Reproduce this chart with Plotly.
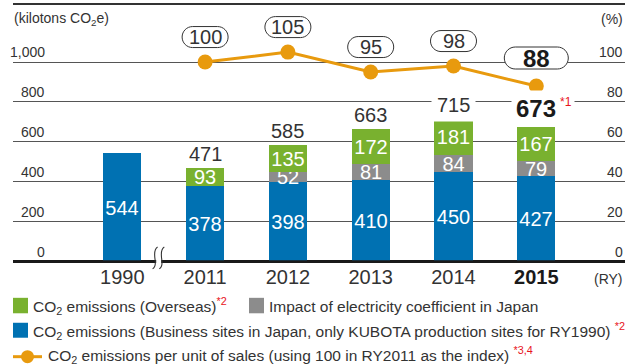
import plotly.graph_objects as go

# ---- data -------------------------------------------------------------
years = ["1990", "2011", "2012", "2013", "2014", "2015"]
japan_sites = [544, 378, 398, 410, 450, 427]          # blue
electricity_impact = [None, None, 52, 81, 84, 79]    # gray
overseas = [None, 93, 135, 172, 181, 167]            # green
totals = [None, 471, 585, 663, 715, 673]
index_years = ["2011", "2012", "2013", "2014", "2015"]
index_values = [100, 105, 95, 98, 88]
left_ticks = [0, 200, 400, 600, 800, 1000]
left_tick_text = ["0", "200", "400", "600", "800", "1,000"]
right_ticks = [0, 20, 40, 60, 80, 100]
right_tick_text = ["0", "20", "40", "60", "80", "100"]

# ---- style ------------------------------------------------------------
BLUE = "#0071B2"
GRAY = "#8C8C8C"
GREEN = "#79B12F"
ORANGE = "#E89A0E"
RED = "#E8141C"
TXT = "#333333"
FONT = "Liberation Sans, Arial, sans-serif"

W, H = 628, 364
PX0, PX1 = 13, 625          # plot area, pixels
ZERO_PX = 261.7             # page row of the zero line
TOP_PX = 3.0                # page row of the top rule
Y_PER_PX = 5.0              # kilotons per pixel
YMIN = -7.0                 # a little room below zero so the baseline sits inside
PY0 = 1.5
PY1 = ZERO_PX - YMIN / Y_PER_PX
SLOT = 82.8                 # category spacing in px
FIRST = 122.3               # centre of first category in px

def fx(p):
    return (p - PX0) / (PX1 - PX0)

def fy(p):
    return (PY1 - p) / (PY1 - PY0)

pos = list(range(len(years)))
idx_pos = [years.index(y) for y in index_years]
ymax = (ZERO_PX - PY0) * Y_PER_PX
top_rule = (ZERO_PX - TOP_PX) * Y_PER_PX

fig = go.Figure()
for vals, col in [(japan_sites, BLUE), (electricity_impact, GRAY), (overseas, GREEN)]:
    fig.add_trace(go.Bar(
        x=pos, y=vals, width=0.46, marker=dict(color=col, line=dict(width=0)),
        text=[None if v is None else str(v) for v in vals], textposition="inside",
        insidetextanchor="middle", constraintext="none", textangle=0,
        textfont=dict(color="white", size=20, family=FONT),
        hoverinfo="skip", showlegend=False,
    ))

fig.add_trace(go.Scatter(
    x=idx_pos, y=index_values, yaxis="y2", mode="lines+markers",
    line=dict(color=ORANGE, width=3), marker=dict(color=ORANGE, size=15),
    hoverinfo="skip", showlegend=False,
))
# empty trace that carries the axis used for the top rule
fig.add_trace(go.Scatter(x=[], y=[], yaxis="y3", showlegend=False, hoverinfo="skip"))

shapes = []
annotations = []

def rect(x0, y0, x1, y1, col):
    """Filled rectangle given in page pixels."""
    shapes.append(dict(type="rect", xref="paper", yref="paper",
                       x0=fx(x0), x1=fx(x1), y0=fy(y1), y1=fy(y0),
                       fillcolor=col, line=dict(width=0), layer="above"))

# left / right tick labels sitting on top of the grid lines
for v, t in zip(left_ticks, left_tick_text):
    annotations.append(dict(xref="paper", yref="y", x=fx(46.5), y=v, text=t,
                            xanchor="right", yanchor="bottom", showarrow=False,
                            font=dict(size=14, color=TXT, family=FONT)))
for v, t in zip(right_ticks, right_tick_text):
    annotations.append(dict(xref="paper", yref="y2", x=1, y=v, text=t,
                            xanchor="right", yanchor="bottom", showarrow=False,
                            font=dict(size=14, color=TXT, family=FONT)))
annotations.append(dict(xref="paper", yref="paper", x=fx(12), y=fy(19),
                        text="(kilotons CO<sub>2</sub>e)", xanchor="left", yanchor="middle",
                        showarrow=False, font=dict(size=14, color=TXT, family=FONT)))
annotations.append(dict(xref="paper", yref="paper", x=1, y=fy(19), text="(%)",
                        xanchor="right", yanchor="middle", showarrow=False,
                        font=dict(size=14, color=TXT, family=FONT)))
annotations.append(dict(xref="paper", yref="paper", x=1, y=fy(279), text="(RY)",
                        xanchor="right", yanchor="middle", showarrow=False,
                        font=dict(size=14, color=TXT, family=FONT)))

# totals above the stacks; a white backing breaks any grid line running through the number
last = len(years) - 1
for i, t in enumerate(totals):
    if t is None:
        continue
    bold = i == last
    band = (t + 35, t + (130 if bold else 110))
    crosses = any(band[0] <= g <= band[1] for g in left_ticks)
    if bold:
        ann = dict(x=i, y=t, xref="x", yref="y", text=f"<b>{t}</b>",
                   xanchor="center", yanchor="bottom", yshift=0, showarrow=False,
                   borderpad=4, font=dict(size=24, color="#1a1a1a", family=FONT))
        star = dict(x=i, y=t, xref="x", yref="y", text="*1",
                    xanchor="left", yanchor="bottom", xshift=21, yshift=15,
                    showarrow=False, borderpad=2, font=dict(size=12, color=RED, family=FONT))
        if crosses:
            ann["bgcolor"] = "white"
            star["bgcolor"] = "white"
        annotations += [ann, star]
    else:
        ann = dict(x=i, y=t, xref="x", yref="y", text=str(t),
                   xanchor="center", yanchor="bottom", yshift=-3, showarrow=False,
                   borderpad=5, font=dict(size=20, color=TXT, family=FONT))
        if crosses:
            ann["bgcolor"] = "white"
        annotations.append(ann)

# index values in rounded boxes above the markers
def pill(w, h, dy):
    r = h / 2.0
    k = 0.5523 * r
    l, rr = -w / 2.0, w / 2.0
    b, t = dy - r, dy + r
    return (f"M {l+r},{b} L {rr-r},{b} "
            f"C {rr-r+k},{b} {rr},{b+r-k} {rr},{b+r} "
            f"C {rr},{t-r+k} {rr-r+k},{t} {rr-r},{t} "
            f"L {l+r},{t} "
            f"C {l+r-k},{t} {l},{t-r+k} {l},{t-r} "
            f"C {l},{b+r-k} {l+r-k},{b} {l+r},{b} Z")

for xi, v in zip(idx_pos, index_values):
    bold = xi == last
    w, h, dy = (64, 22, 28) if bold else (46, 21, 25)
    shapes.append(dict(type="path", xref="x", yref="y2", xsizemode="pixel", ysizemode="pixel",
                       xanchor=xi, yanchor=v, path=pill(w, h, dy), fillcolor="white",
                       line=dict(color="#333333", width=1), layer="above"))
    annotations.append(dict(x=xi, y=v, xref="x", yref="y2",
                            text=f"<b>{v}</b>" if bold else str(v),
                            xanchor="center", yanchor="middle", yshift=dy, showarrow=False,
                            font=dict(size=24 if bold else 20,
                                      color="#1a1a1a" if bold else TXT, family=FONT)))

# legend
def legend_text(x, y, text):
    annotations.append(dict(xref="paper", yref="paper", x=fx(x), y=fy(y), text=text,
                            xanchor="left", yanchor="middle", showarrow=False,
                            font=dict(size=15.5, color=TXT, family=FONT)))

sup = lambda s: f"<sup><span style='color:{RED}'>{s}</span></sup>"
rect(13, 298, 28, 313.5, GREEN)
legend_text(31, 306.5, "CO<sub>2</sub> emissions (Overseas)" + sup("*2"))
rect(249, 298, 264, 313.5, GRAY)
legend_text(267, 306.5, "Impact of electricity coefficient in Japan")
rect(13, 323, 28, 338, BLUE)
legend_text(31, 331, "CO<sub>2</sub> emissions (Business sites in Japan, only KUBOTA production sites for RY1990) " + sup("*2"))
rect(13, 355.5, 42, 358.5, ORANGE)
shapes.append(dict(type="circle", xref="paper", yref="paper", x0=fx(21), x1=fx(34),
                   y0=fy(363.5), y1=fy(350.5), fillcolor=ORANGE, line=dict(width=0)))
legend_text(46, 355, "CO<sub>2</sub> emissions per unit of sales (using 100 in RY2011 as the index) " + sup("*3,4"))

# heavy baseline drawn over the bar feet
rect(PX0, ZERO_PX - 1.3, PX1, ZERO_PX + 1.3, "#1a1a1a")

# axis break between 1990 and 2011 (page-pixel positions around the category gap)
gap_px = FIRST + SLOT * 0.5
rect(gap_px - 7.5, ZERO_PX - 2.5, gap_px - 2.5, ZERO_PX + 2.5, "white")
for cx in (gap_px - 8.6, gap_px - 1.9):
    shapes.append(dict(type="path", xref="paper", yref="paper",
                       path=(f"M {fx(cx+2.5)},{fy(247)} "
                             f"C {fx(cx-1.2)},{fy(249)} {fx(cx-0.6)},{fy(256)} {fx(cx)},{fy(260)} "
                             f"C {fx(cx+0.6)},{fy(264)} {fx(cx+0.6)},{fy(267)} {fx(cx-2.5)},{fy(269)}"),
                       line=dict(color="#333333", width=1.1), layer="above"))

ticktext = [f"<b><span style='color:#1a1a1a'>{y}</span></b>" if i == last else y
            for i, y in enumerate(years)]

fig.update_layout(
    width=W, height=H,
    margin=dict(l=PX0, r=W - PX1, t=PY0, b=H - PY1, pad=0),
    paper_bgcolor="white", plot_bgcolor="white",
    barmode="stack", bargap=0,
    xaxis=dict(range=[(PX0 - FIRST) / SLOT, (PX1 - FIRST) / SLOT],
               tickmode="array", tickvals=pos, ticktext=ticktext,
               tickfont=dict(size=20, color=TXT, family=FONT),
               showgrid=False, zeroline=False, ticks="", showline=False),
    yaxis=dict(range=[YMIN, ymax], tickmode="array", tickvals=left_ticks[1:],
               showticklabels=False, showgrid=True, gridcolor="#555555", gridwidth=1,
               zeroline=False, showline=False, ticks=""),
    # secondary scale for the index line; its single grid line is the baseline
    yaxis2=dict(range=[YMIN / 10.0, ymax / 10.0], overlaying="y", tickmode="array",
                tickvals=[0], showgrid=True, gridcolor="#1a1a1a", gridwidth=2.5,
                zeroline=False, showticklabels=False, showline=False, ticks=""),
    # carries the top rule of the frame
    yaxis3=dict(range=[YMIN, ymax], overlaying="y", tickmode="array", tickvals=[top_rule],
                showgrid=True, gridcolor="#333333", gridwidth=1.5,
                zeroline=False, showticklabels=False, showline=False, ticks=""),
    shapes=shapes, annotations=annotations,
)

fig.write_html("out.html")
